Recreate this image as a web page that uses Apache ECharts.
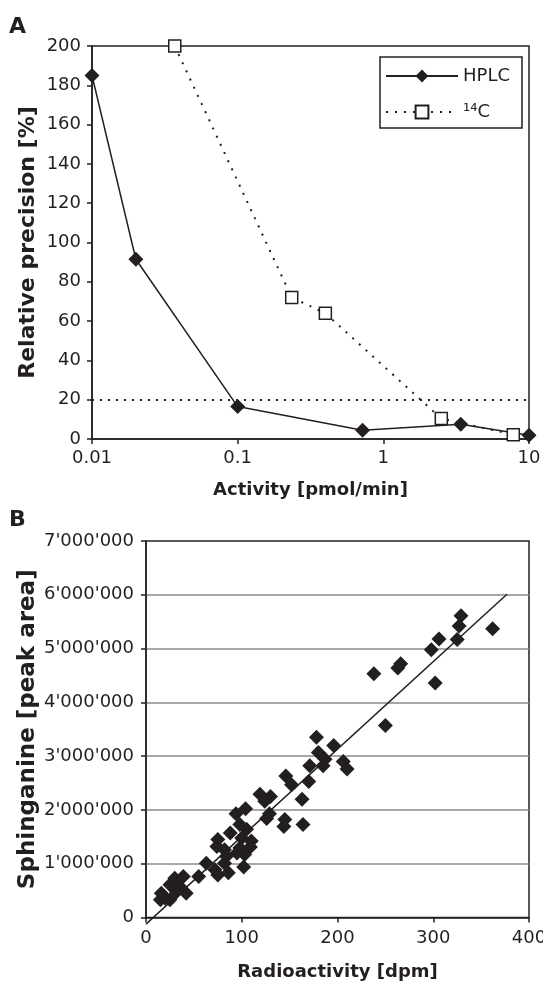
<!DOCTYPE html>
<html><head><meta charset="utf-8">
<script src="https://cdn.jsdelivr.net/npm/echarts@6.0.0/dist/echarts.min.js"></script>
<style>html,body{margin:0;padding:0;background:#fff}#c{width:543px;height:984px}</style>
</head><body><div id="c"></div>
<script>
// ---- Panel A data ----
const hplcActivity = [0.01, 0.02, 0.1, 0.72, 3.4, 10];
const hplcPrecision = [185, 91.5, 16.5, 4.5, 7.5, 1.9];
const c14Activity = [0.037, 0.235, 0.40, 2.5, 7.8];
const c14Precision = [200, 72, 64, 10.4, 2.2];
const precisionLimit = 20;
const activityTickLabels = ['0.01', '0.1', '1', '10'];
const seriesNames = ['HPLC', '\u00B9\u2074C'];

// ---- Panel B data ----
const radioactivity = [329, 327, 362, 325, 306, 298, 266, 263, 238, 302, 250, 178, 196, 180, 187, 185, 206, 210, 171, 146, 152, 170, 119, 130, 163, 124, 104, 94, 129, 126, 145, 144, 164, 98, 105, 88, 75, 100, 110, 74, 82, 98, 109, 84, 95, 103, 82, 63, 72, 102, 86, 75, 55, 30, 39, 25, 35, 42, 32, 16, 20, 15, 25];
const peakArea = [5610000, 5420000, 5370000, 5170000, 5180000, 4980000, 4720000, 4640000, 4530000, 4360000, 3570000, 3350000, 3200000, 3070000, 2940000, 2820000, 2900000, 2760000, 2820000, 2630000, 2470000, 2530000, 2290000, 2250000, 2200000, 2160000, 2020000, 1930000, 1930000, 1840000, 1820000, 1690000, 1730000, 1730000, 1640000, 1570000, 1450000, 1480000, 1420000, 1320000, 1260000, 1290000, 1310000, 1140000, 1200000, 1170000, 1010000, 1010000, 890000, 940000, 830000, 790000, 760000, 730000, 760000, 610000, 580000, 450000, 480000, 450000, 360000, 330000, 330000];
const fitX = [0, 377];
const fitY = [-124000, 6010000];

const ink = '#231f20';
const fam = 'DejaVu Sans';
const zip = (a, b) => a.map((v, i) => [v, b[i]]);
const apos = v => String(Math.round(v)).replace(/\B(?=(\d{3})+(?!\d))/g, "'");

const axisCommon = {
  nameLocation: 'middle',
  nameMoveOverlap: false,
  nameTextStyle: { fontFamily: fam, fontSize: 18, fontWeight: 'bold', color: ink },
  axisLine: { show: true, onZero: false, lineStyle: { color: ink, width: 1.5 } },
  axisTick: { show: true, length: 5, lineStyle: { color: ink, width: 1.5 } },
  minorTick: { show: false },
  minorSplitLine: { show: false }
};

const chart = echarts.init(document.getElementById('c'), null, { renderer: 'canvas' });
chart.setOption({
  animation: false,
  backgroundColor: '#fff',
  textStyle: { fontFamily: fam, color: ink },
  title: [
    { text: 'A', left: 9, top: 16, padding: 0, textStyle: { fontFamily: fam, fontSize: 22, fontWeight: 'bold', color: ink } },
    { text: 'B', left: 9, top: 509, padding: 0, textStyle: { fontFamily: fam, fontSize: 22, fontWeight: 'bold', color: ink } }
  ],
  legend: {
    data: seriesNames,
    orient: 'vertical',
    left: 380, top: 57,
    itemWidth: 72, itemHeight: 16, itemGap: 18,
    padding: [10, 12, 7, 5],
    borderColor: ink, borderWidth: 1.5, borderRadius: 0,
    backgroundColor: '#fff',
    selectedMode: false,
    textStyle: { fontFamily: fam, fontSize: 18, color: ink }
  },
  grid: [
    { left: 92, top: 46, width: 437, height: 393, show: true, borderColor: ink, borderWidth: 1.5, backgroundColor: 'transparent', outerBoundsMode: 'none', containLabel: false },
    { left: 146, top: 541, width: 383, height: 376.5, show: true, borderColor: ink, borderWidth: 1.5, backgroundColor: 'transparent', outerBoundsMode: 'none', containLabel: false }
  ],
  xAxis: [
    Object.assign({}, axisCommon, {
      gridIndex: 0, type: 'log', logBase: 10, min: 0.01, max: 10,
      name: 'Activity [pmol/min]', nameGap: 42,
      axisLabel: { fontFamily: fam, fontSize: 18, color: ink, margin: 10,
        formatter: v => activityTickLabels[Math.round(Math.log10(v)) + 2] },
      splitLine: { show: false }
    }),
    Object.assign({}, axisCommon, {
      gridIndex: 1, type: 'value', min: 0, max: 400, interval: 100,
      name: 'Radioactivity [dpm]', nameGap: 46,
      axisLabel: { fontFamily: fam, fontSize: 18, color: ink, margin: 12 },
      splitLine: { show: false }
    })
  ],
  yAxis: [
    Object.assign({}, axisCommon, {
      gridIndex: 0, type: 'value', min: 0, max: 200, interval: 20,
      name: 'Relative precision [%]', nameRotate: 90, nameGap: 53,
      nameTextStyle: { fontFamily: fam, fontSize: 22, fontWeight: 'bold', color: ink },
      axisLabel: { fontFamily: fam, fontSize: 18, color: ink, margin: 11 },
      splitLine: { show: false }
    }),
    Object.assign({}, axisCommon, {
      gridIndex: 1, type: 'value', min: 0, max: 7000000, interval: 1000000,
      name: 'Sphinganine [peak area]', nameRotate: 90, nameGap: 106,
      nameTextStyle: { fontFamily: fam, fontSize: 23, fontWeight: 'bold', color: ink },
      axisLabel: { fontFamily: fam, fontSize: 18, color: ink, margin: 12, formatter: apos },
      splitLine: { show: true, showMinLine: false, showMaxLine: false, lineStyle: { color: '#8a8a8a', width: 1.5 } }
    })
  ],
  series: [
    {
      name: seriesNames[0], type: 'line', xAxisIndex: 0, yAxisIndex: 0,
      data: zip(hplcActivity, hplcPrecision),
      symbol: 'diamond', symbolSize: 15, clip: false,
      itemStyle: { color: ink },
      lineStyle: { color: ink, width: 1.5 },
      z: 3,
      markLine: {
        silent: true, symbol: 'none', label: { show: false },
        lineStyle: { color: ink, width: 2, type: [2, 6] },
        emphasis: { disabled: true },
        data: [{ yAxis: precisionLimit }]
      }
    },
    {
      name: seriesNames[1], type: 'line', xAxisIndex: 0, yAxisIndex: 0,
      data: zip(c14Activity, c14Precision),
      symbol: 'rect', symbolSize: 12, clip: false,
      itemStyle: { color: '#fff', borderColor: ink, borderWidth: 1.5 },
      lineStyle: { color: ink, width: 2, type: [2, 7] },
      z: 4
    },
    {
      name: 'samples', type: 'scatter', xAxisIndex: 1, yAxisIndex: 1,
      data: zip(radioactivity, peakArea),
      symbol: 'diamond', symbolSize: 15,
      itemStyle: { color: ink, opacity: 1 },
      z: 2
    },
    {
      name: 'fit', type: 'line', xAxisIndex: 1, yAxisIndex: 1,
      data: zip(fitX, fitY), symbol: 'none', clip: false,
      lineStyle: { color: ink, width: 1.5 },
      z: 3
    }
  ]
});
</script>
</body></html>
